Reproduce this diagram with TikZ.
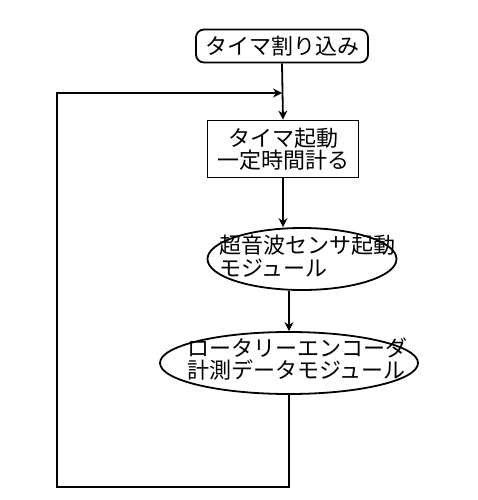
\documentclass[tikz,border=0pt]{standalone}
\usepackage{fontspec}
\setmainfont{Noto Sans CJK JP}
\usepackage{tikz}
\usetikzlibrary{arrows.meta, positioning, shapes.geometric}
\tikzset{
  startbox/.style = {draw, line width=1.8pt, rounded corners=8pt, inner sep=0pt,
                     minimum width=172pt, minimum height=33pt},
  procbox/.style  = {draw, line width=1.8pt, inner sep=0pt, align=center,
                     minimum width=151pt, minimum height=57pt},
  modell/.style   = {draw, ellipse, line width=1.8pt, inner sep=0pt},
  modtext/.style  = {align=left, inner sep=0pt},
  flow/.style     = {-{Stealth[length=9pt, width=9pt]}, line width=1.8pt},
}

\begin{document}
\begin{tikzpicture}[x=1pt, y=-1pt, font=\fontsize{22}{22.5}\selectfont]
        \useasboundingbox (0,0) rectangle (478,500);
        \node[startbox]                                  (int)  at (282,46)  {タイマ割り込み};
        \node[procbox]                                   (tim)  at (283,149) {タイマ起動\\一定時間計る};
        \node[modell, minimum width=189pt, minimum height=62pt] (us) at (302,259) {};
        \node[modtext]                                   (ust)  at (307,256) {超音波センサ起動\\モジュール};
        \node[modell, minimum width=258pt, minimum height=62pt] (enc) at (289,363) {};
        \node[modtext]                                   (enct) at (297,359) {ロータリーエンコーダ\\計測データモジュール};
        \coordinate (join) at (282,93);
        \coordinate (back) at (57,487);
        \draw[flow] (int.south) -- (tim.north);
        \draw[flow] (tim.south) -- (tim.south |- us.north);
        \draw[flow] (enc.north |- us.south) -- (enc.north);
        \draw[flow] (enc.south) |- (back) |- (join);
    \end{tikzpicture}
\end{document}
